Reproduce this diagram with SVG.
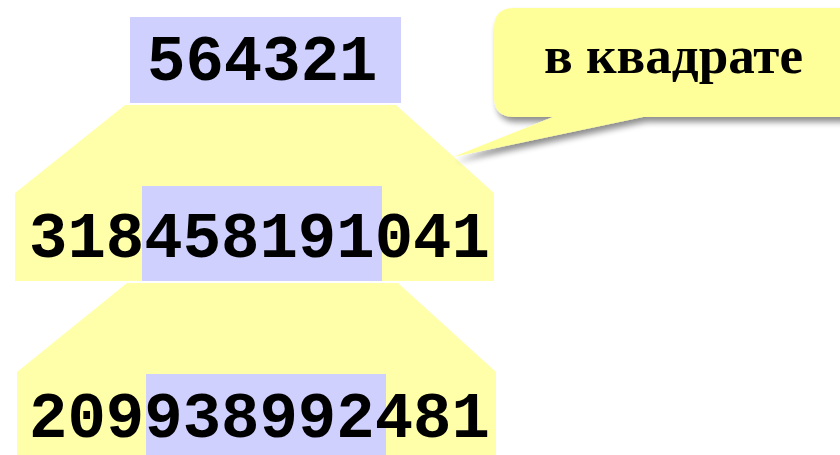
<svg xmlns="http://www.w3.org/2000/svg" width="840" height="455" viewBox="0 0 840 455">
  <defs>
    <filter id="shadow" x="-10%" y="-10%" width="130%" height="150%">
      <feGaussianBlur in="SourceAlpha" stdDeviation="3"/>
      <feOffset dx="3" dy="5" result="b"/>
      <feComponentTransfer><feFuncA type="linear" slope="0.45"/></feComponentTransfer>
      <feMerge><feMergeNode/><feMergeNode in="SourceGraphic"/></feMerge>
    </filter>
  </defs>
  <style>
    .funnel { fill: #FFFFAA; }
    .mid { fill: #D0D0FF; }
    .num { font-family: "Liberation Mono", "Courier New", monospace; font-weight: bold; font-size: 64px; fill: #000; }
    .note { font-family: "Liberation Serif", "Times New Roman", serif; font-weight: bold; font-size: 52px; fill: #000; }
  </style>
  <rect width="840" height="455" fill="#FFFFFF"/>

  <!-- funnels carrying the square down to the next row -->
  <g id="connectors">
    <polygon class="funnel" points="125,105 396,105 494,193 494,281 15,281 15,193"/>
    <polygon class="funnel" points="127,283 398,283 496,372 496,455 17,455 17,372"/>
  </g>

  <g id="seed">
    <rect class="mid" x="130" y="17" width="271" height="86"/>
    <text class="num" x="147" y="80">564321</text>
  </g>

  <g id="square1">
    <rect class="mid" x="142" y="186" width="240" height="95"/>
    <text class="num" x="29" y="257">318458191041</text>
  </g>

  <g id="square2">
    <rect class="mid" x="146" y="374" width="240" height="81"/>
    <text class="num" x="29" y="437">209938992481</text>
  </g>

  <g id="callout" filter="url(#shadow)">
    <path fill="#FFFF99" d="M514,8 H850 V117 H643 L453,157 L553,117 H514 Q494,117 494,97 V28 Q494,8 514,8 Z"/>
    <text class="note" x="544" y="73" textLength="259" lengthAdjust="spacingAndGlyphs">в квадрате</text>
  </g>
</svg>
